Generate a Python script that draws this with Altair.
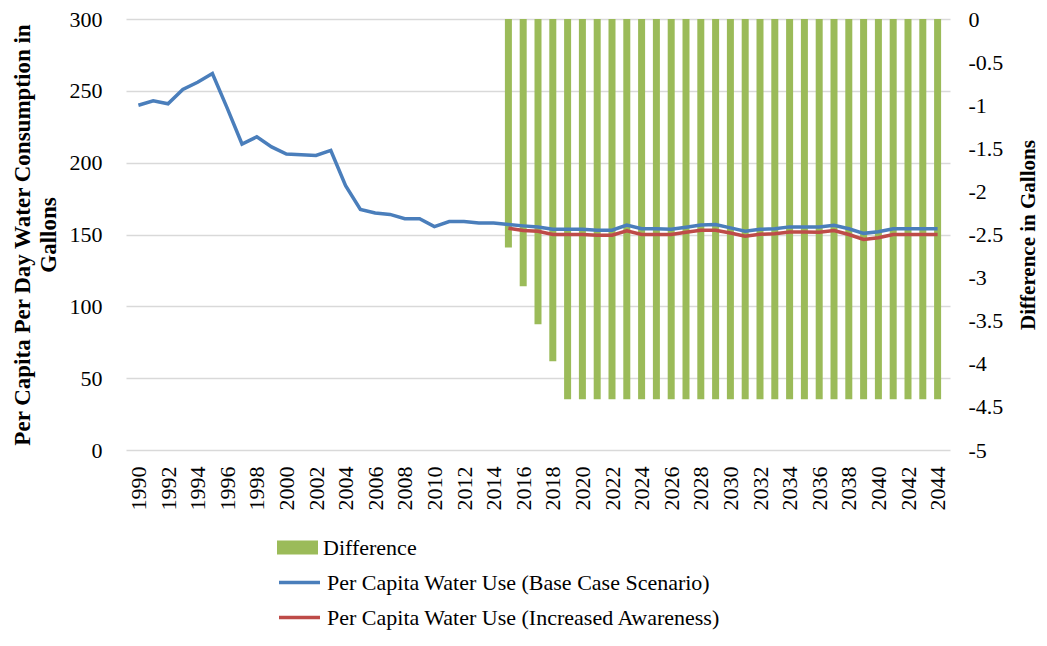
import altair as alt
import pandas as pd

FONT = "Liberation Serif"
BLUE = "#4A7EBB"
RED = "#BE4B48"
GREEN = "#9BBB59"
GRID = "#D9D9D9"

years = list(range(1990, 2045))
base_use = [240, 243, 241, 251, 256, 262, 238, 213, 218, 211, 206, 205.5, 205, 208.5, 184,
            167.5, 165, 164, 161, 161, 155.5, 159, 159, 158, 158,
            157, 156, 155.2, 153.6, 153.6, 153.6, 153, 153, 156.6, 154,
            154, 153.6, 155, 156.6, 157, 154.6, 152.3, 153.6, 154, 155.3,
            155.3, 155.3, 156.4, 154, 150.8, 151.9, 154, 154, 154, 154]

future_years = list(range(2015, 2045))
aware_use = [154.4, 152.8, 152.3, 150, 150, 150, 149.5, 149.5, 152.5, 150,
             150, 150, 151.5, 153, 153, 151, 148.8, 150.2, 150.5, 151.8,
             151.8, 151.5, 152.8, 150, 146.5, 147.7, 150, 150, 150, 150]
difference = [-2.65, -3.1, -3.54, -3.97, -4.41, -4.41, -4.41, -4.41, -4.41, -4.41,
              -4.41, -4.41, -4.41, -4.41, -4.41, -4.41, -4.41, -4.41, -4.41, -4.41,
              -4.41, -4.41, -4.41, -4.41, -4.41, -4.41, -4.41, -4.41, -4.41, -4.41]

x_ticks = list(range(1990, 2045, 2))
left_ticks = [0, 50, 100, 150, 200, 250, 300]
right_ticks = [-5, -4.5, -4, -3.5, -3, -2.5, -2, -1.5, -1, -0.5, 0]

BASE = "Per Capita Water Use (Base Case Scenario)"
AWARE = "Per Capita Water Use (Increased Awareness)"
DIFF = "Difference"

line_df = pd.concat([
    pd.DataFrame({"year": years, "value": base_use, "series": BASE}),
    pd.DataFrame({"year": future_years, "value": aware_use, "series": AWARE}),
])
bar_df = pd.DataFrame({"year": future_years, "diff": difference, "series": DIFF})

x_enc = alt.X(
    "year:Q",
    scale=alt.Scale(domain=[1989.5, 2044.5], nice=False, zero=False),
    axis=alt.Axis(values=x_ticks, format="d", labelAngle=270, labelFontSize=22,
                  labelFont=FONT, labelColor="#000", labelPadding=16, grid=False,
                  ticks=False, domain=False, title=None, labelFlush=False,
                  labelOverlap=False),
)

bars = alt.Chart(bar_df).mark_bar(width=7).encode(
    x=x_enc,
    y=alt.Y("diff:Q", scale=alt.Scale(domain=[-5, 0], nice=False),
            axis=alt.Axis(orient="right", values=right_ticks, labelExpr="'' + datum.value",
                          grid=False, ticks=False, domain=False,
                          labelFont=FONT, labelFontSize=22, labelColor="#000",
                          labelPadding=18, labelAlign="left",
                          title="Difference in Gallons", titleFont=FONT,
                          titleFontSize=21, titleFontWeight="bold", titleColor="#000",
                          titleAngle=270, titleX=78, titleY=215.5,
                          titleAlign="center", titleBaseline="middle")),
    fill=alt.Fill("series:N", scale=alt.Scale(domain=[DIFF], range=[GREEN]),
                  legend=alt.Legend(orient="none", legendX=151, legendY=508, title=None,
                                    symbolType="M-1,-0.34H1V0.34H-1Z", symbolSize=1681,
                                    symbolStrokeWidth=0, labelFont=FONT, labelFontSize=22,
                                    labelColor="#000", labelOffset=5, padding=0,
                                    labelLimit=800)),
)

lines = alt.Chart(line_df).mark_line(strokeWidth=3.5).encode(
    x=x_enc,
    y=alt.Y("value:Q", scale=alt.Scale(domain=[0, 300], nice=False),
            axis=alt.Axis(orient="left", values=left_ticks, grid=True, gridColor=GRID,
                          gridWidth=1.5, ticks=False, domain=False,
                          labelFont=FONT, labelFontSize=22, labelColor="#000",
                          labelPadding=24,
                          title=["Per Capita Per Day Water Consumption in", "Gallons"],
                          titleFont=FONT, titleFontSize=23, titleFontWeight="bold",
                          titleColor="#000", titleAngle=270, titleX=-104, titleY=215.5,
                          titleAlign="center", titleBaseline="middle",
                          titleLineHeight=26)),
    stroke=alt.Stroke("series:N", scale=alt.Scale(domain=[BASE, AWARE], range=[BLUE, RED]),
                      legend=alt.Legend(orient="none", legendX=151, legendY=541, title=None,
                                        symbolType="stroke", symbolSize=1681,
                                        symbolStrokeWidth=3.5, labelFont=FONT,
                                        labelFontSize=22, labelColor="#000",
                                        labelOffset=5, padding=0, rowPadding=1,
                                        labelLimit=800)),
    detail="series:N",
)

chart = alt.layer(bars, lines).resolve_scale(y="independent").properties(
    width=824, height=431,
    autosize=alt.AutoSizeParams(type="none"),
    padding={"left": 118, "top": 11, "right": 88, "bottom": 180},
).configure_view(stroke=None)

chart.save("out.html", embed_options={"renderer": "svg", "actions": False})
